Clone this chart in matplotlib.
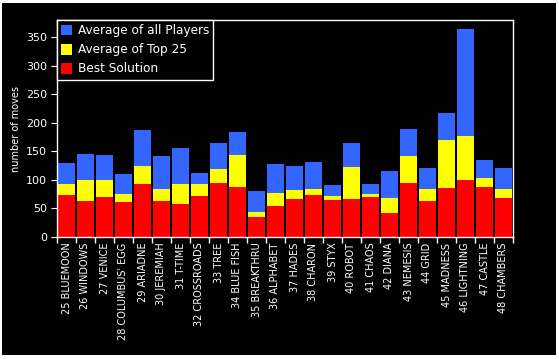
import numpy as np
import matplotlib
matplotlib.use("Agg")
import matplotlib.pyplot as plt
from matplotlib.patches import Rectangle

puzzles = ["25 BLUEMOON", "26 WINDOWS", "27 VENICE", "28 COLUMBUS' EGG", "29 ARIADNE",
           "30 JEREMIAH", "31 T-TIME", "32 CROSSROADS", "33 TREE", "34 BLUE FISH",
           "35 BREAKTHRU", "36 ALPHABET", "37 HADES", "38 CHARON", "39 STYX",
           "40 ROBOT", "41 CHAOS", "42 DIANA", "43 NEMESIS", "44 GRID",
           "45 MADNESS", "46 LIGHTNING", "47 CASTLE", "48 CHAMBERS"]
avg_all = [130, 146, 144, 111, 188, 142, 156, 112, 165, 184, 81, 128,
           125, 132, 91, 165, 93, 116, 190, 121, 218, 364, 134, 121]
avg_top25 = [92, 100, 100, 76, 124, 84, 93, 92, 119, 144, 44, 77,
             83, 84, 72, 123, 76, 69, 141, 84, 169, 177, 104, 84]
best = [74, 63, 70, 61, 93, 63, 58, 72, 95, 88, 35, 54,
        67, 74, 65, 67, 70, 42, 95, 63, 86, 100, 88, 69]

fig = plt.figure(figsize=(5.59, 3.59), dpi=100, facecolor="white")
# black panel with thin white edge like the original export
fig.patches.append(Rectangle((2 / 559, 4 / 359), 554 / 559, 352 / 359,
                             transform=fig.transFigure, facecolor="black",
                             edgecolor="none", zorder=-1))

ax = fig.add_axes([57 / 559, 1 - 237 / 359, 456 / 559, 217 / 359])
ax.set_facecolor("black")

x = np.arange(len(puzzles))
ax.bar(x, avg_all, width=0.9, color="#3366FF", label="Average of all Players")
ax.bar(x, avg_top25, width=0.9, color="#FFFF00", label="Average of Top 25")
ax.bar(x, best, width=0.9, color="#FF0000", label="Best Solution")

ax.set_xlim(-0.5, len(puzzles) - 0.5)
ax.set_ylim(0, 380)
ax.set_yticks(np.arange(0, 351, 50))
ax.set_xticks(x)
ax.set_xticklabels(puzzles, rotation=90, fontsize=7, color="white", va="top")
ax.set_xticks(np.arange(-0.5, len(puzzles)), minor=True)
ax.tick_params(axis="x", which="major", length=0, pad=4)
ax.tick_params(axis="x", which="minor", length=4, color="white", width=1)
ax.tick_params(axis="y", length=4, color="white", labelcolor="white", labelsize=8, pad=3)
ax.set_ylabel("number of moves", color="white", fontsize=7, labelpad=4)

for s in ax.spines.values():
    s.set_color("white")
    s.set_linewidth(1)

leg = ax.legend(loc="upper left", bbox_to_anchor=(0, 1), borderaxespad=0,
                fontsize=8.7, frameon=True, fancybox=False, handlelength=0.9,
                handleheight=1.0, handletextpad=0.45, labelspacing=0.5,
                borderpad=0.35)
leg.get_frame().set_facecolor("black")
leg.get_frame().set_edgecolor("white")
leg.get_frame().set_alpha(1)
for t in leg.get_texts():
    t.set_color("white")

fig.savefig("out.png", dpi=100, facecolor=fig.get_facecolor())
